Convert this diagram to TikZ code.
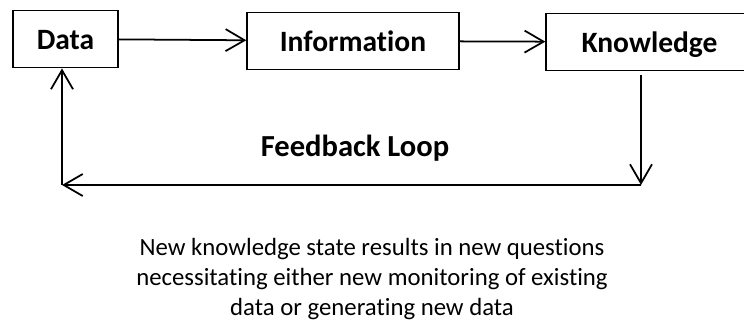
\documentclass[tikz,border=0pt]{standalone}
\usepackage{fontspec}
\setmainfont{Carlito}[Ligatures=NoCommon]
\usetikzlibrary{arrows.meta}
\begin{document}
\begin{tikzpicture}[x=0.02cm,y=-0.02cm,
    >={Straight Barb[length=0.38cm,width=0.44cm]},
    stage/.style={draw,line width=0.8pt,rectangle,minimum height=1.15cm,inner sep=0pt,text height=0.5cm,text depth=0.1cm,font=\fontsize{16.8}{20}\selectfont\bfseries},
    flow/.style={->,line width=1pt}]
        \useasboundingbox (0,0) rectangle (744,329);
        %% Nodes
        \node[stage,minimum width=2.1cm] (data) at (65.5,39) {Data};
        \node[stage,minimum width=4.24cm] (info) at (353,41) {Information};
        \node[stage,minimum width=4.14cm] (know) at (649.5,42) {Knowledge};
        \coordinate (fbR) at (641,185);
        \coordinate (fbL) at (62,185);
        %% Lines
        \draw[flow] (data) -- (info);
        \draw[flow] (info) -- (know);
        \draw[flow,shorten <=0.08cm] (know.south -| fbR) -- (fbR);
        \draw[flow] (fbR) -- (fbL);
        \draw[flow] (fbL) -- (fbL |- data.south);
        %% Text
        \node[font=\fontsize{17.4}{20}\selectfont\bfseries] (loop) at (355,148) {Feedback Loop};
        \node[align=center,font=\fontsize{14.1}{17}\selectfont] (note) at (372,279) {New knowledge state results in new questions\\necessitating either new monitoring of existing\\data or generating new data};
    \end{tikzpicture}
\end{document}
